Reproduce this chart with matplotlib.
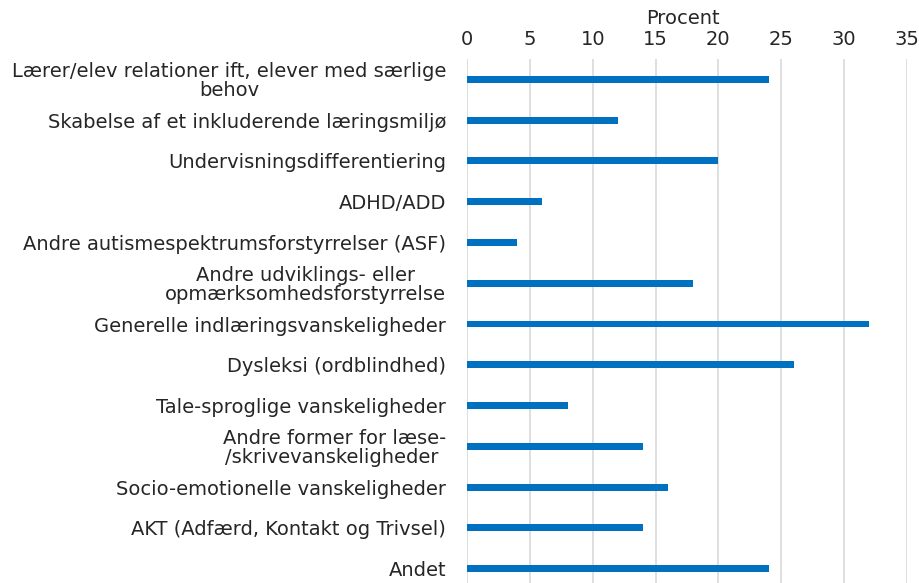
import matplotlib
matplotlib.use("Agg")
import matplotlib.pyplot as plt

categories = [
    "Lærer/elev relationer ift, elever med særlige\nbehov",
    "Skabelse af et inkluderende læringsmiljø",
    "Undervisningsdifferentiering",
    "ADHD/ADD",
    "Andre autismespektrumsforstyrrelser (ASF)",
    "Andre udviklings- eller\nopmærksomhedsforstyrrelse",
    "Generelle indlæringsvanskeligheder",
    "Dysleksi (ordblindhed)",
    "Tale-sproglige vanskeligheder",
    "Andre former for læse-\n/skrivevanskeligheder ",
    "Socio-emotionelle vanskeligheder",
    "AKT (Adfærd, Kontakt og Trivsel)",
    "Andet",
]
values = [24, 12, 20, 6, 4, 18, 32, 26, 8, 14, 16, 14, 24]
xticks = [0, 5, 10, 15, 20, 25, 30, 35]
axis_label = "Procent"

plt.rcParams['font.family'] = ['DejaVu Sans']
FS = 14
TXT = '#262626'

fig = plt.figure(figsize=(9.2, 5.83), dpi=100)
top_px, bot_px = 59, 589
ax = fig.add_axes([467/920, 1 - bot_px/583, 440/920, (bot_px - top_px)/583])

n = len(categories)
pos = list(range(n))
ax.barh(pos, values, height=0.17, color='#0070C0', zorder=3)
ax.set_ylim(n - 0.5, -0.5)
ax.set_xlim(0, 35)
ax.set_xticks(xticks)
ax.xaxis.tick_top()
ax.set_yticks(pos)
ax.set_yticklabels(categories, fontsize=FS, color=TXT)
for t in ax.get_yticklabels():
    t.set_multialignment('center')
    t.set_linespacing(1.0)
ax.tick_params(axis='both', length=0, colors=TXT, labelsize=FS)
ax.tick_params(axis='y', pad=15)
ax.tick_params(axis='x', pad=7)
ax.grid(axis='x', color='#D9D9D9', linewidth=1.2, zorder=0)
for s in ax.spines.values():
    s.set_visible(False)

fig.text(683/920, 1 - 19/583, axis_label, fontsize=FS, color=TXT,
         ha='center', va='center')

fig.savefig("out.png", dpi=100)
